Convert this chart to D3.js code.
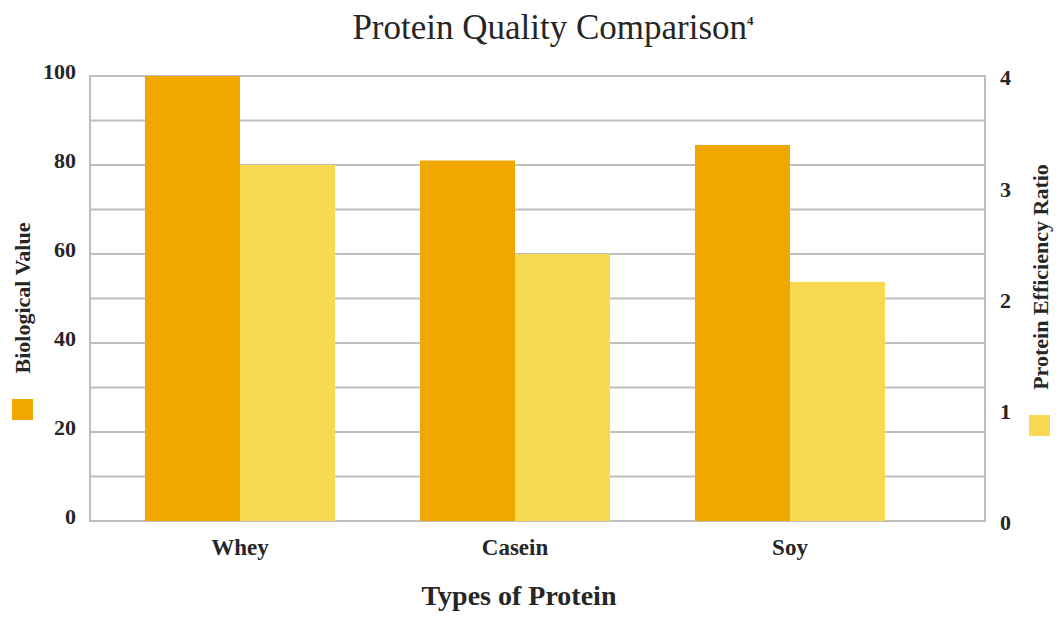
<!DOCTYPE html>
<html><head><meta charset="utf-8">
<script src="https://cdn.jsdelivr.net/npm/d3@7"></script>
<style>body{margin:0;background:#fff}</style>
</head><body>
<svg id="c" width="1059" height="617"></svg>
<script>
const categories = ["Whey", "Casein", "Soy"];
const biologicalValue = [100, 81, 84.5];
const proteinEfficiency = [3.2, 2.4, 2.15];
const leftTicks = [0, 20, 40, 60, 80, 100];
const rightTicks = [0, 1, 2, 3, 4];
const gridValues = [0,10,20,30,40,50,60,70,80,90,100];

const svg = d3.select("#c");
const L = 90, R = 985, T = 76, B = 521;
const serif = "'Liberation Serif', 'DejaVu Serif', serif";
const dark = "#F0A800", light = "#F7DA52";
const ink = "#262626";

const x = d3.scaleBand().domain(categories).range([102.5, 927.5]).paddingInner(0.309).paddingOuter(0.1545);
const x1 = d3.scaleBand().domain(["bv","per"]).range([0, x.bandwidth()]);
const yL = d3.scaleLinear().domain([0, 100]).range([B, T]);
const yR = d3.scaleLinear().domain([0, 4]).range([B, T]);

// gridlines
svg.append("g").selectAll("line").data(gridValues).join("line")
  .attr("x1", L).attr("x2", R).attr("y1", d => yL(d)).attr("y2", d => yL(d))
  .attr("stroke", "#bfbfbf").attr("stroke-width", 2);
// frame
svg.append("rect").attr("x", L).attr("y", T).attr("width", R - L).attr("height", B - T)
  .attr("fill", "none").attr("stroke", "#bfbfbf").attr("stroke-width", 2);

// bars
const g = svg.append("g");
g.selectAll(".bv").data(categories).join("rect")
  .attr("x", d => x(d) + x1("bv")).attr("width", x1.bandwidth())
  .attr("y", (d, i) => yL(biologicalValue[i])).attr("height", (d, i) => B - yL(biologicalValue[i]))
  .attr("fill", dark);
g.selectAll(".per").data(categories).join("rect")
  .attr("x", d => x(d) + x1("per")).attr("width", x1.bandwidth())
  .attr("y", (d, i) => yR(proteinEfficiency[i])).attr("height", (d, i) => B - yR(proteinEfficiency[i]))
  .attr("fill", light);

// left axis
const axL = svg.append("g").attr("transform", `translate(${L},0)`)
  .call(d3.axisLeft(yL).tickValues(leftTicks).tickSize(0).tickPadding(14));
axL.select(".domain").remove();
axL.selectAll("text").attr("font-family", serif).attr("font-size", 22).attr("font-weight", "bold").attr("fill", ink).attr("dy", "0.1em");

// right axis
const axR = svg.append("g").attr("transform", `translate(${R},0)`)
  .call(d3.axisRight(yR).tickValues(rightTicks).tickFormat(d3.format("d")).tickSize(0).tickPadding(15));
axR.select(".domain").remove();
axR.selectAll("text").attr("font-family", serif).attr("font-size", 22).attr("font-weight", "bold").attr("fill", ink).attr("dy", "0.4em");

// bottom axis
const axB = svg.append("g").attr("transform", `translate(0,${B})`)
  .call(d3.axisBottom(x).tickSize(0).tickPadding(18));
axB.select(".domain").remove();
axB.selectAll("text").attr("font-family", serif).attr("font-size", 23).attr("font-weight", "bold").attr("fill", ink);

// title
svg.append("text").attr("x", 553).attr("y", 39).attr("text-anchor", "middle")
  .attr("font-family", serif).attr("font-size", 35).attr("fill", ink)
  .text("Protein Quality Comparison").append("tspan").attr("font-size", 13).attr("dy", -14).attr("font-weight","bold").text("4");

// x title
svg.append("text").attr("x", 519).attr("y", 605).attr("text-anchor", "middle")
  .attr("font-family", serif).attr("font-size", 28).attr("font-weight", "bold").attr("fill", ink)
  .text("Types of Protein");

// left y title + legend
svg.append("text").attr("transform", "translate(30,298) rotate(-90)").attr("text-anchor", "middle")
  .attr("font-family", serif).attr("font-size", 22).attr("font-weight", "bold").attr("fill", ink)
  .text("Biological Value");
svg.append("rect").attr("x", 12).attr("y", 399).attr("width", 21).attr("height", 21).attr("fill", dark);

// right y title + legend
svg.append("text").attr("transform", "translate(1048,277) rotate(-90)").attr("text-anchor", "middle")
  .attr("font-family", serif).attr("font-size", 22).attr("font-weight", "bold").attr("fill", ink)
  .text("Protein Efficiency Ratio");
svg.append("rect").attr("x", 1029).attr("y", 415).attr("width", 21).attr("height", 21).attr("fill", light);
</script>
</body></html>
